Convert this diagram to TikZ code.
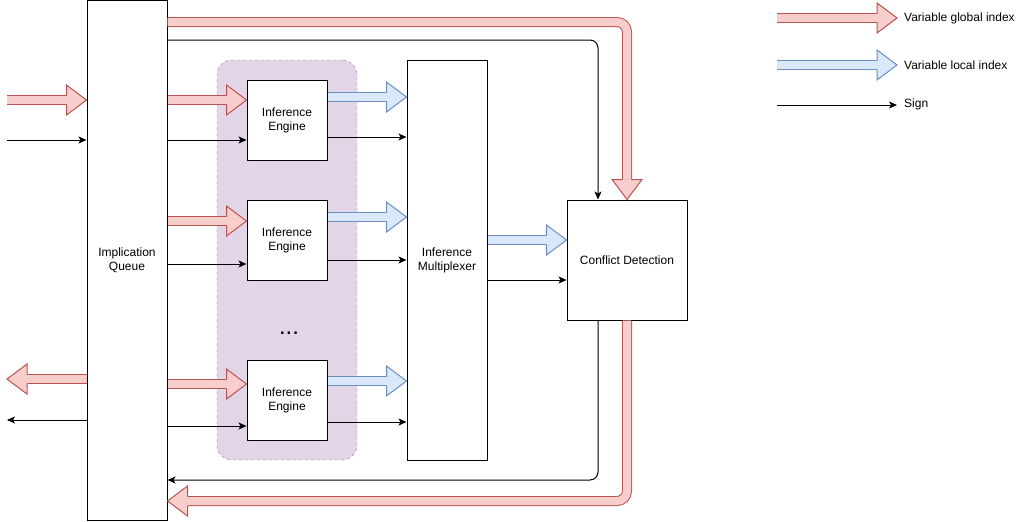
\documentclass[tikz,border=0pt]{standalone}
\usepackage{fontspec}
\setmainfont{Liberation Sans}
\usetikzlibrary{calc,arrows.meta}

\definecolor{redfill}{HTML}{F8CECC}
\definecolor{redline}{HTML}{B85450}
\definecolor{bluefill}{HTML}{DAE8FC}
\definecolor{blueline}{HTML}{6C8EBF}
\definecolor{grpfill}{HTML}{E1D5E7}
\definecolor{grpline}{HTML}{9673A6}

\tikzset{
  block/.style={draw, line width=1pt, fill=white, inner sep=0pt, align=center},
  sig/.style={line width=1pt, -{Stealth[length=8pt,width=7pt,inset=2pt]}, rounded corners=8pt},
  redshaft/.style={line width=1pt, draw=redline, double=redfill, double distance=8pt, rounded corners=10pt},
  blueshaft/.style={line width=1pt, draw=blueline, double=bluefill, double distance=8pt, rounded corners=10pt},
  legend/.style={anchor=west, inner sep=0pt}
}

% fat arrow: #1 colour, #2 shaft path, #3 last bend, #4 tip
\newcommand{\fatarrow}[4]{%
  \coordinate (fbase) at (#3);
  \coordinate (ftip) at (#4);
  \coordinate (fhead) at ($(ftip)!20pt!(fbase)$);
  \draw[#1shaft] #2 -- (fhead);
  \fill[#1fill] ($(fhead)!15pt!90:(ftip)$) -- (ftip) -- ($(fhead)!15pt!-90:(ftip)$) -- cycle;
  \draw[#1line, line width=1pt] ($(fhead)!4.5pt!90:(ftip)$) -- ($(fhead)!15pt!90:(ftip)$) -- (ftip)
    -- ($(fhead)!15pt!-90:(ftip)$) -- ($(fhead)!4.5pt!-90:(ftip)$);
}

\begin{document}
\begin{tikzpicture}[x=1pt,y=-1pt,font=\fontsize{12}{14}\selectfont]
\useasboundingbox (0,0) rectangle (1034,522);

% engine group
\node[draw=grpline, fill=grpfill, dash pattern=on 3pt off 3pt, rounded corners=15pt,
  minimum width=140pt, minimum height=400pt] (grp) at (287,260) {};

\node[block, minimum width=80pt, minimum height=520pt] (iq) at (127,260) {Implication\\Queue};
\node[block, minimum width=80pt, minimum height=80pt] (ie1) at (287,120) {Inference\\Engine};
\node[block, minimum width=80pt, minimum height=80pt] (ie2) at (287,240) {Inference\\Engine};
\node[block, minimum width=80pt, minimum height=80pt] (ie3) at (287,400) {Inference\\Engine};
\node[font=\fontsize{24}{28}\selectfont, anchor=base] (dots) at (289,334) {...};
\node[block, minimum width=80pt, minimum height=400pt] (mux) at (447,260) {Inference\\Multiplexer};
\node[block, minimum width=120pt, minimum height=120pt] (cd) at (627,260) {Conflict Detection};

% inputs and outputs of the queue
\coordinate (inR) at (7,100);
\coordinate (inS) at (7,140);
\coordinate (outR) at (7,379);
\coordinate (outS) at (7,420);
\fatarrow{red}{(inR)}{inR}{iq.west |- inR}
\draw[sig] (inS) -- (iq.west |- inS);
\fatarrow{red}{(iq.west |- outR)}{iq.west |- outR}{outR}
\draw[sig] (iq.west |- outS) -- (outS);

% queue -> engines -> multiplexer
\foreach \e/\r/\b/\l/\k in {1/100/140/97/137, 2/221/264/217/260, 3/384/426/381/422} {
  \fatarrow{red}{(iq.east |- 0,\r)}{iq.east |- 0,\r}{ie\e.west |- 0,\r}
  \draw[sig] (iq.east |- 0,\b) -- (ie\e.west |- 0,\b);
  \fatarrow{blue}{(ie\e.east |- 0,\l)}{ie\e.east |- 0,\l}{mux.west |- 0,\l}
  \draw[sig] (ie\e.east |- 0,\k) -- (mux.west |- 0,\k);
}

% multiplexer -> conflict detection
\fatarrow{blue}{(mux.east |- 0,240)}{mux.east |- 0,240}{cd.west |- 0,240}
\draw[sig] (mux.east |- 0,280) -- (cd.west |- 0,280);

% queue <-> conflict detection
\coordinate (cdin) at ([xshift=-29pt]cd.north);
\coordinate (cdout) at ([xshift=-29pt]cd.south);
\fatarrow{red}{(iq.east |- 0,22) -- (cd.north |- 0,22)}{cd.north |- 0,22}{cd.north}
\draw[sig] (iq.east |- 0,40) -| (cdin);
\draw[sig] (cdout) |- (iq.east |- 0,480);
\fatarrow{red}{(cd.south) -- (cd.south |- 0,501)}{cd.south |- 0,501}{iq.east |- 0,501}

% legend
\node[legend] (lgRt) at (904,18) {Variable global index};
\node[legend] (lgBt) at (904,65) {Variable local index};
\node[legend] (lgSt) at (904,104) {Sign};
\coordinate (lgR) at (777,18);
\coordinate (lgB) at (777,65);
\coordinate (lgS) at (777,105);
\fatarrow{red}{(lgR)}{lgR}{897,18}
\fatarrow{blue}{(lgB)}{lgB}{897,65}
\draw[sig] (lgS) -- (897,105);
\end{tikzpicture}
\end{document}
